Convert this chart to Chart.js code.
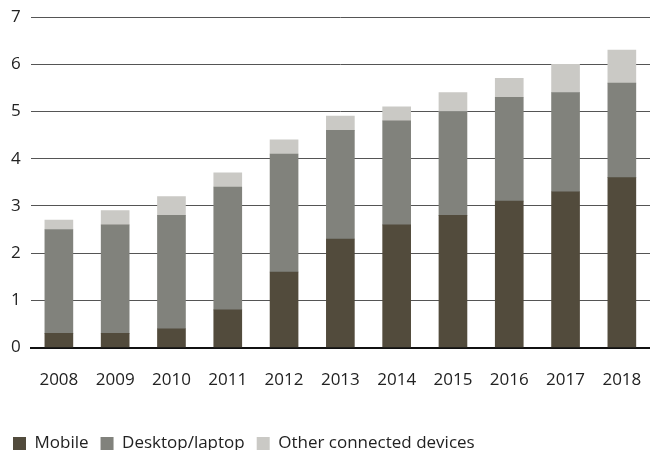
<!DOCTYPE html>
<html>
<head>
<meta charset="utf-8">
<script src="https://cdn.jsdelivr.net/npm/chart.js@4"></script>
<style>
  html, body { margin: 0; padding: 0; background: #fff; overflow: hidden; }
  #wrap { width: 650px; height: 462px; position: relative; }
</style>
</head>
<body>
<div id="wrap"><canvas id="myChart"></canvas></div>
<script>
'use strict';

// years on the x axis
let years = ['2008', '2009', '2010', '2011', '2012', '2013', '2014', '2015', '2016', '2017', '2018'];

// stacked segments
let mobile  = [0.3, 0.3, 0.4, 0.8, 1.6, 2.3, 2.6, 2.8, 3.1, 3.3, 3.6];
let desktop = [2.2, 2.3, 2.4, 2.6, 2.5, 2.3, 2.2, 2.2, 2.2, 2.1, 2.0];
let other   = [0.2, 0.3, 0.4, 0.3, 0.3, 0.3, 0.3, 0.4, 0.4, 0.6, 0.7];

let seriesNames = ['Mobile', 'Desktop/laptop', 'Other connected devices'];
let yTicks = [0, 1, 2, 3, 4, 5, 6, 7];

Chart.defaults.font.family = '"Open Sans", "Noto Sans", sans-serif';
Chart.defaults.font.size = 17;
Chart.defaults.color = '#222';

let ctx = document.getElementById('myChart').getContext('2d');

let chart = new Chart(ctx, {
    type: 'bar',
    data: {
        labels: years,
        datasets: [
            { label: seriesNames[0], data: mobile,  backgroundColor: '#524b3c' },
            { label: seriesNames[1], data: desktop, backgroundColor: '#81827c' },
            { label: seriesNames[2], data: other,   backgroundColor: '#cac9c5' }
        ]
    },
    options: {
        responsive: true,
        maintainAspectRatio: false,
        animation: false,
        layout: { padding: { top: 17, left: 1, right: 0, bottom: 0 } },
        datasets: { bar: { barThickness: 28, borderWidth: 0 } },
        plugins: {
            tooltip: { enabled: false },
            legend: {
                position: 'bottom',
                align: 'start',
                labels: {
                    boxWidth: 13,
                    boxHeight: 13,
                    padding: 12,
                    font: { size: 17 }
                }
            }
        },
        scales: {
            x: {
                stacked: true,
                grid: { display: false, drawTicks: false },
                border: { display: true, color: '#111', width: 2 },
                ticks: { padding: 22, maxRotation: 0 },
                afterFit: function (scale) {
                    scale.height += 11;
                    scale.paddingLeft = 0;
                    scale.paddingRight = 0;
                }
            },
            y: {
                stacked: true,
                min: 0,
                max: 7,
                afterBuildTicks: function (scale) {
                    scale.ticks = yTicks.map(function (v) { return { value: v }; });
                },
                afterFit: function (scale) {
                    scale.paddingTop = 0;
                    scale.paddingBottom = 0;
                },
                grid: { color: '#555', lineWidth: 1, drawTicks: false },
                border: { display: false },
                ticks: { padding: 10 }
            }
        }
    }
});
</script>
</body>
</html>
